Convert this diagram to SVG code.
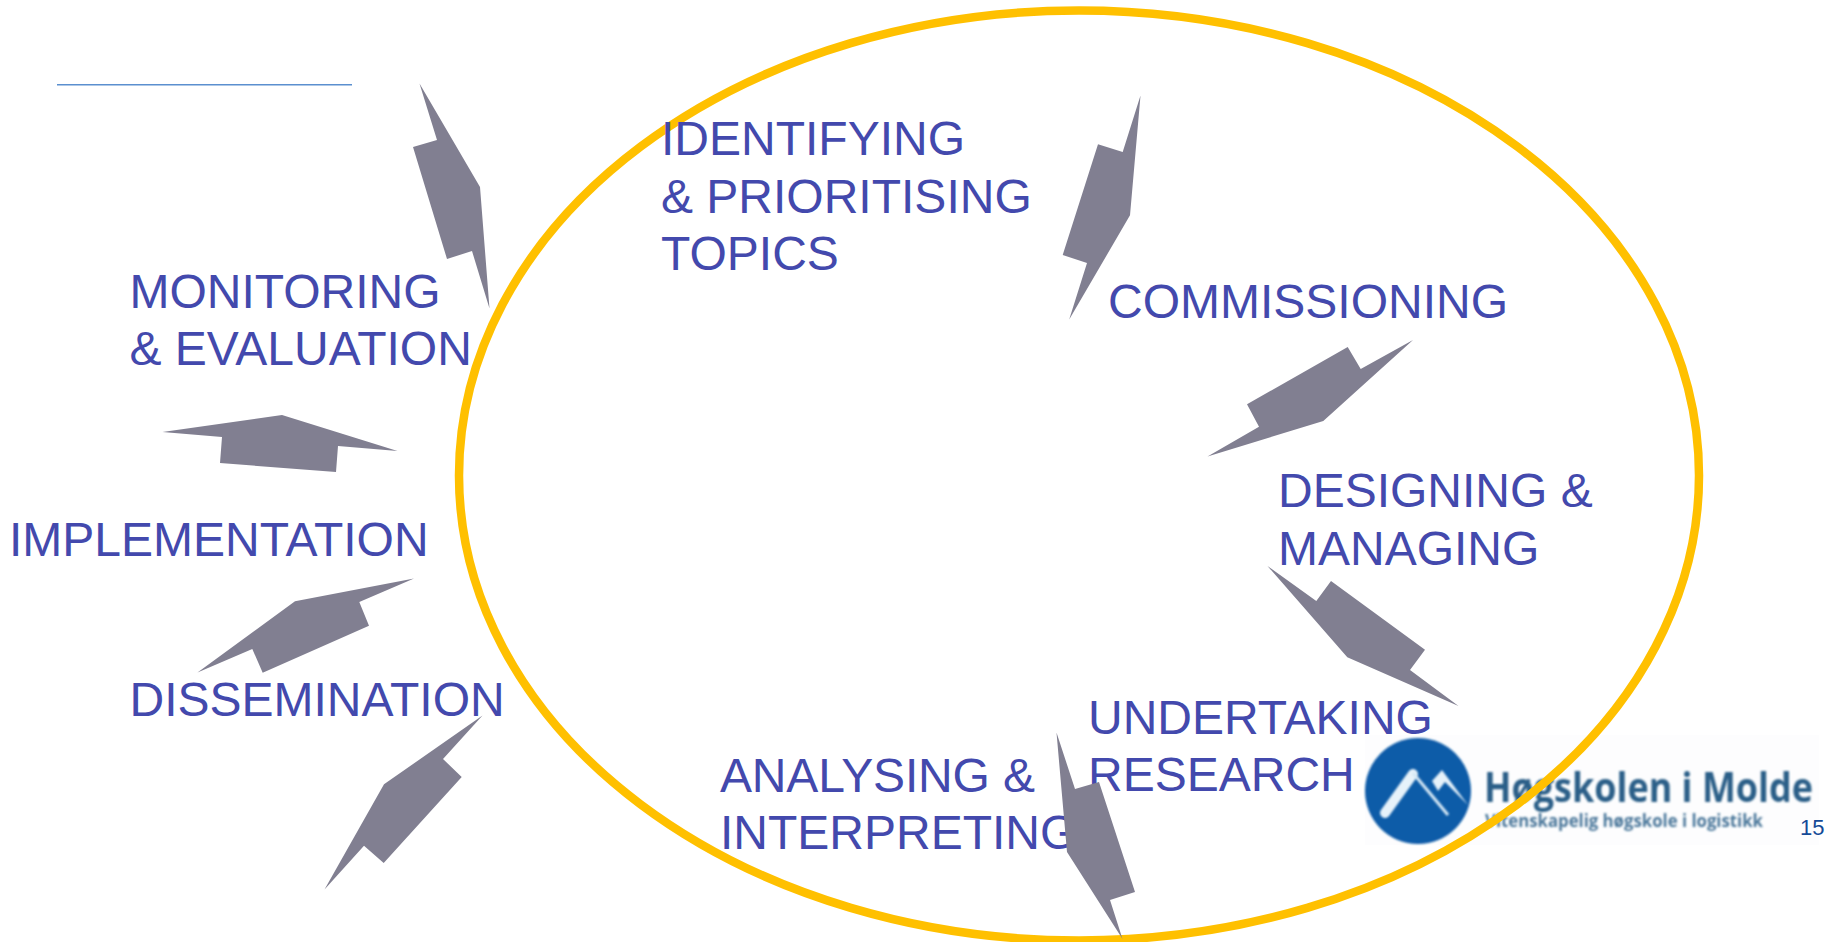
<svg xmlns="http://www.w3.org/2000/svg" width="1839" height="942" viewBox="0 0 1839 942">
<style>
.l{font-family:"Liberation Sans",Arial,sans-serif;font-size:48px;fill:#4349AD}
.a{fill:#817F91}
.ls{font-family:"Open Sans","Liberation Sans",sans-serif;fill:#2B5F88}
</style>
<defs><filter id="b" x="-5%" y="-20%" width="110%" height="140%"><feGaussianBlur stdDeviation="0.9"/></filter></defs>
<rect width="1839" height="942" fill="#fff"/>
<line id="title-rule" x1="57" y1="84.7" x2="352" y2="84.7" stroke="#5B8FCF" stroke-width="1.5"/>
<g id="logo">
<rect x="1365" y="735" width="454" height="110" fill="#FDFDFE"/>
<circle cx="1418" cy="791" r="53" fill="#0B5BA8" filter="url(#b)"/>
<g filter="url(#b)">
<path d="M1385 813L1413 774" stroke="#E6F2FA" stroke-width="10" stroke-linecap="round" fill="none"/>
<path d="M1413 773L1448 815" stroke="#D5E8F5" stroke-width="3" fill="none"/>
<path d="M1432 781L1442 770L1468 805L1445 782L1438 791Z" fill="#E6F2FA"/>
<text class="ls" x="1484" y="802" font-size="42" font-weight="700" textLength="329" lengthAdjust="spacingAndGlyphs">Høgskolen i Molde</text>
<text class="ls" x="1485" y="827" font-size="18" font-weight="700" fill-opacity="0.85" textLength="278" lengthAdjust="spacingAndGlyphs">Vitenskapelig høgskole i logistikk</text>
</g>
</g>
<ellipse id="cycle-ring" cx="1079" cy="475.5" rx="620" ry="465" fill="none" stroke="#FFC000" stroke-width="8.5"/>
<g id="node-identifying"><text class="l" x="661" y="155">IDENTIFYING</text><text class="l" x="661" y="213">&amp; PRIORITISING</text><text class="l" x="661" y="270">TOPICS</text></g>
<g id="node-commissioning"><text class="l" x="1108" y="318">COMMISSIONING</text></g>
<g id="node-designing"><text class="l" x="1278" y="507">DESIGNING &amp;</text><text class="l" x="1278" y="565">MANAGING</text></g>
<g id="node-undertaking"><text class="l" x="1088" y="733.5">UNDERTAKING</text><text class="l" x="1088" y="791">RESEARCH</text></g>
<g id="node-analysing"><text class="l" x="720" y="792" textLength="315">ANALYSING &amp;</text><text class="l" x="720" y="849">INTERPRETING</text></g>
<g id="node-dissemination"><text class="l" x="129.5" y="716">DISSEMINATION</text></g>
<g id="node-implementation"><text class="l" x="9" y="556">IMPLEMENTATION</text></g>
<g id="node-monitoring"><text class="l" x="129.5" y="308">MONITORING</text><text class="l" x="129.5" y="365">&amp; EVALUATION</text></g>
<g id="connectors">
<polygon class="a" points="1140.5,95.5 1122.7,152 1098,144.3 1062.7,255 1087,263 1069.2,319.5 1130,215.3"/>
<polygon class="a" points="1413,340 1360.7,369 1347.7,347 1247,404.3 1259,426.7 1207.5,456.5 1323.3,421"/>
<polygon class="a" points="1267.5,566 1316.3,601 1331,581 1425,649.7 1410,670 1458.5,706 1347.3,657.3"/>
<polygon class="a" points="1056.5,732.5 1075,789 1099,782 1135,892 1110,900 1122.5,939 1067,852"/>
<polygon class="a" points="482.5,715.5 443,759 461.7,777 383.7,863 364,845.7 324.5,889.5 384,784.3"/>
<polygon class="a" points="414,578.5 359.3,602 369,625.7 262.7,672.7 252.3,649 197.5,672.5 295,601.3"/>
<polygon class="a" points="162.5,432 222,437 220,463 336,472 338,446 397.5,451 282,415"/>
<polygon class="a" points="419.5,83.5 437,140 413,147 447,259 472,251 489.5,308.5 480,187"/>
</g>
<text id="page-number" x="1800" y="835" font-family="'Liberation Sans',Arial,sans-serif" font-size="22" fill="#154A97">15</text>
</svg>
